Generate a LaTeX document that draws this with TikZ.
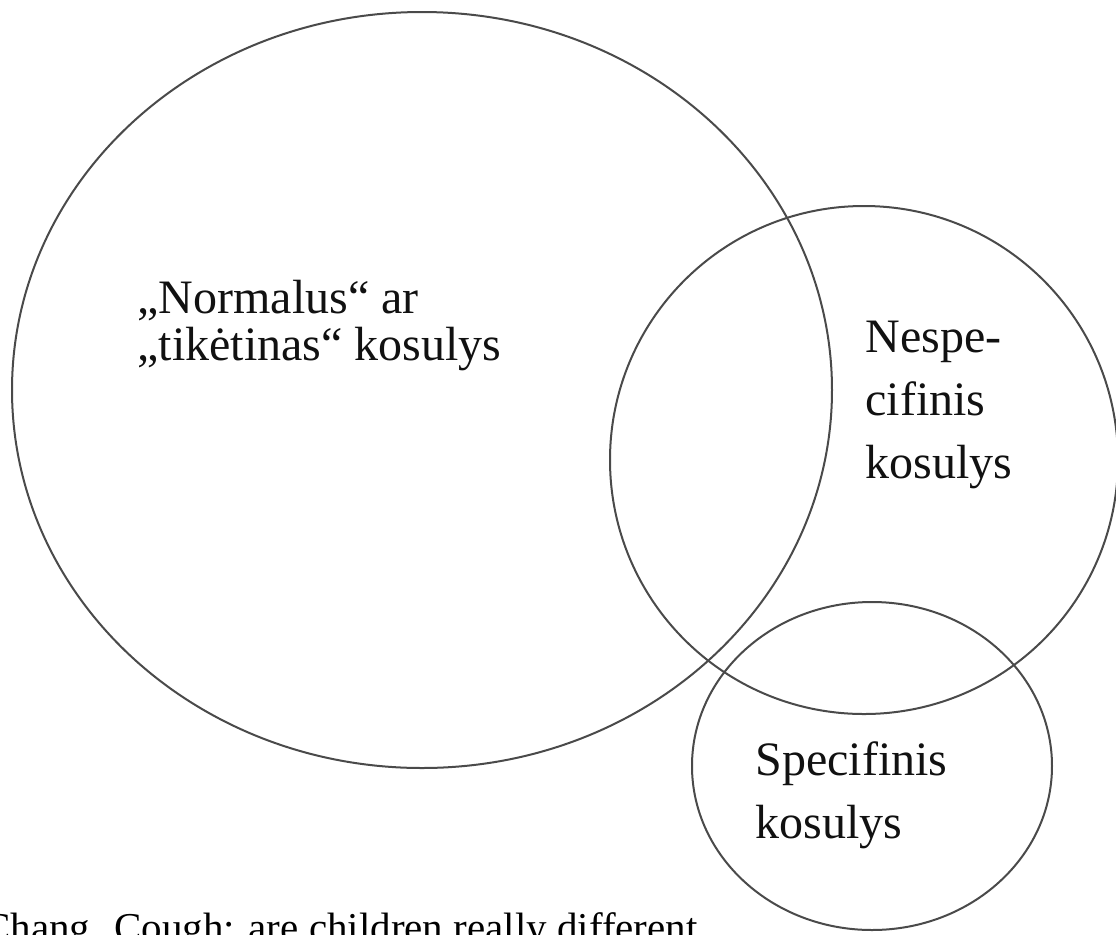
\documentclass[tikz,border=0pt]{standalone}
\usepackage{fontspec}
\setmainfont{Liberation Serif}
\usepackage{xcolor}
\usepackage{tikz}
\usetikzlibrary{positioning}
\definecolor{vnLine}{HTML}{4A4A4A}
\definecolor{vnText}{HTML}{111111}
\tikzset{
  vennring/.style={draw=vnLine, line width=1pt},
  vnlabel/.style={
    font=\fontsize{24}{31.5}\selectfont, align=left, anchor=base west,
    inner sep=0pt, text=vnText
  },
  vntight/.style={vnlabel, font=\fontsize{24}{23.5}\selectfont},
  srcnote/.style={font=\fontsize{20.5}{24}\selectfont, anchor=base west, inner sep=0pt, text=black}
}
\begin{document}
\begin{tikzpicture}[x=0.5pt, y=-0.5pt]
  \useasboundingbox (0,0) rectangle (1116,934);
  \clip (0,0) rectangle (1116,934);
  % the three sets
  \draw[vennring] (422,390) ellipse [x radius=410, y radius=378];
  \draw[vennring] (864,460) circle [radius=254];
  \draw[vennring] (872,766) ellipse [x radius=180, y radius=164];
  % labels (anchored at the baseline of the last line)
  \node[vntight] (normal) at (137,360) {„Normalus“ ar\\„tikėtinas“ kosulys};
  \node[vnlabel] (nespec) at (865,478) {Nespe-\\cifinis\\kosulys};
  \node[vnlabel] (spec) at (755,838) {Specifinis\\kosulys};
  % source line, cut by the page edge
  \node[srcnote] (src) at (-17,941) {Chang. Cough: are children really different};
\end{tikzpicture}
\end{document}
